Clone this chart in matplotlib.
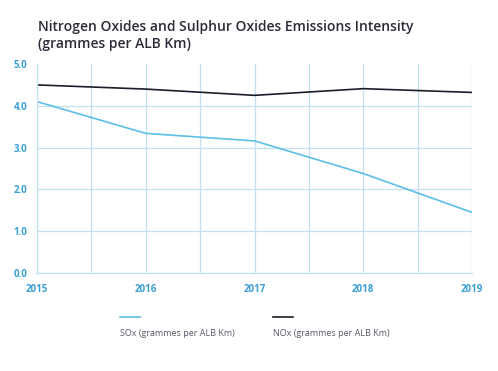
import matplotlib.pyplot as plt
from matplotlib.lines import Line2D

# chart data
years = [2015, 2016, 2017, 2018, 2019]
sox = [4.10, 3.34, 3.16, 2.38, 1.45]
nox = [4.50, 4.40, 4.25, 4.41, 4.32]
y_ticks = [0.0, 1.0, 2.0, 3.0, 4.0, 5.0]

sox_color = '#5bbfe6'
nox_color = '#1b1d2b'
grid_color = '#c2e1f0'
tick_color = '#3b9fd4'

plt.rcParams['font.family'] = ['Open Sans', 'DejaVu Sans']

fig = plt.figure(figsize=(4.98, 3.71), dpi=100)
ax = fig.add_axes([37 / 498, 1 - 273 / 371, 435 / 498, 209 / 371])

ax.plot(years, sox, color=sox_color, lw=1.2)
ax.plot(years, nox, color=nox_color, lw=1.2)

ax.set_xlim(2015, 2019)
ax.set_ylim(0, 5)
ax.set_xticks(years)
ax.set_xticks([y + 0.5 for y in years[:-1]], minor=True)
ax.set_yticks(y_ticks)
ax.set_yticklabels([f'{v:.1f}' for v in y_ticks])

ax.grid(True, which='both', axis='x', color=grid_color, lw=0.9)
ax.grid(True, which='major', axis='y', color=grid_color, lw=0.9)
ax.yaxis.get_gridlines()[-1].set_visible(False)
ax.set_axisbelow(True)

for side in ['top', 'right']:
    ax.spines[side].set_visible(False)
for side in ['left', 'bottom']:
    ax.spines[side].set_color(grid_color)
    ax.spines[side].set_linewidth(0.9)

ax.tick_params(which='both', length=0)
ax.tick_params(axis='y', pad=7, labelsize=7, labelcolor=tick_color)
ax.tick_params(axis='x', pad=8, labelsize=7, labelcolor=tick_color)
for lab in ax.get_xticklabels() + ax.get_yticklabels():
    lab.set_fontweight('bold')

# title
fig.text(38 / 498, 1 - 20 / 371, 'Nitrogen Oxides and Sulphur Oxides Emissions Intensity\n(grammes per ALB Km)',
         fontsize=10, fontweight='semibold', color='#2a2c38', va='top', ha='left', linespacing=1.25)

# legend drawn below the chart
legend_items = [('SOx (grammes per ALB Km)', sox_color, 120),
                ('NOx (grammes per ALB Km)', nox_color, 273)]
for label, color, x0 in legend_items:
    fig.add_artist(Line2D([x0 / 498, (x0 + 20) / 498], [1 - 317 / 371] * 2,
                          color=color, lw=1.2, transform=fig.transFigure))
    fig.text(x0 / 498, 1 - 333 / 371, label, fontsize=6.5, color='#555a66',
             va='center', ha='left')

fig.savefig('out.png', dpi=100, facecolor='white')
